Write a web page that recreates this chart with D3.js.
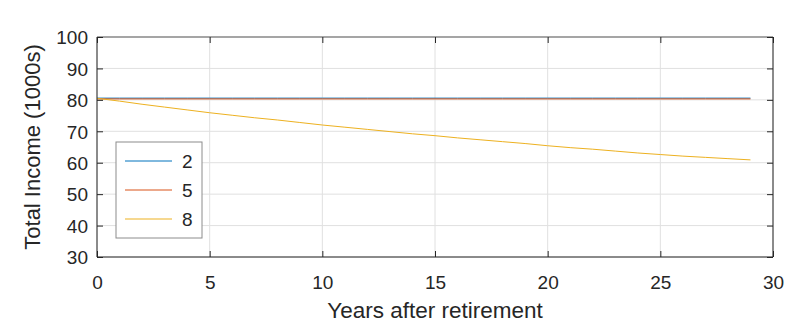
<!DOCTYPE html>
<html lang="en">
<head>
<meta charset="UTF-8">
<title>Total Income</title>
<script src="https://d3js.org/d3.v7.min.js"></script>
<style>
    body { margin: 0; background: #fff; }
    text { font-family: "Liberation Sans", Arial, sans-serif; fill: #262626; }
</style>
</head>
<body>
<script>
    const years = d3.range(0, 30);
    const series2 = years.map(() => 80.55);
    const series5 = years.map(() => 80.3);
    const series8 = [80.5, 79.6, 78.6, 77.7, 76.8, 75.9, 75.1, 74.3, 73.6, 72.8,
                     72.0, 71.3, 70.6, 69.9, 69.2, 68.6, 67.9, 67.3, 66.7, 66.1,
                     65.4, 64.8, 64.3, 63.7, 63.1, 62.6, 62.1, 61.7, 61.3, 60.9];
    const seriesNames = ['2', '5', '8'];
    const seriesColors = ['#0072BD', '#D95319', '#EDB120'];
    const xTicks = [0, 5, 10, 15, 20, 25, 30];
    const yTicks = [30, 40, 50, 60, 70, 80, 90, 100];

    const width = 808, height = 329;
    const pLeft = 97, pRight = 773, pTop = 37, pBottom = 257;

    const x = d3.scaleLinear().domain([0, 30]).range([pLeft, pRight]);
    const y = d3.scaleLinear().domain([30, 100]).range([pBottom, pTop]);

    const svg = d3.select('body').append('svg')
        .attr('width', width).attr('height', height);

    // grid
    svg.append('g').selectAll('line').data(xTicks).enter().append('line')
        .attr('x1', d => x(d)).attr('x2', d => x(d))
        .attr('y1', pTop).attr('y2', pBottom)
        .attr('stroke', '#e0e0e0').attr('stroke-width', 1);
    svg.append('g').selectAll('line').data(yTicks).enter().append('line')
        .attr('x1', pLeft).attr('x2', pRight)
        .attr('y1', d => y(d)).attr('y2', d => y(d))
        .attr('stroke', '#e0e0e0').attr('stroke-width', 1);

    // lines
    const line = d3.line().x((d, i) => x(years[i])).y(d => y(d));
    [series2, series5, series8].forEach((s, i) => {
        svg.append('path').datum(s)
            .attr('fill', 'none')
            .attr('stroke', seriesColors[i])
            .attr('stroke-width', 1)
            .attr('d', line);
    });

    // box
    svg.append('line').attr('x1', pLeft).attr('x2', pRight).attr('y1', pTop).attr('y2', pTop)
        .attr('stroke', '#8c8c8c').attr('stroke-width', 1.5);
    svg.append('line').attr('x1', pLeft).attr('x2', pRight).attr('y1', pBottom).attr('y2', pBottom)
        .attr('stroke', '#262626').attr('stroke-width', 1);
    svg.append('line').attr('x1', pLeft).attr('x2', pLeft).attr('y1', pTop).attr('y2', pBottom)
        .attr('stroke', '#262626').attr('stroke-width', 1);
    svg.append('line').attr('x1', pRight).attr('x2', pRight).attr('y1', pTop).attr('y2', pBottom)
        .attr('stroke', '#262626').attr('stroke-width', 1);

    // axes with inward ticks
    const xAxisB = svg.append('g').attr('transform', `translate(0,${pBottom})`)
        .call(d3.axisBottom(x).tickValues(xTicks).tickSizeInner(-6).tickSizeOuter(0).tickPadding(19));
    const xAxisT = svg.append('g').attr('transform', `translate(0,${pTop})`)
        .call(d3.axisTop(x).tickValues(xTicks).tickSizeInner(-6).tickSizeOuter(0).tickFormat(''));
    const yAxisL = svg.append('g').attr('transform', `translate(${pLeft},0)`)
        .call(d3.axisLeft(y).tickValues(yTicks).tickSizeInner(-6).tickSizeOuter(0).tickPadding(9));
    const yAxisR = svg.append('g').attr('transform', `translate(${pRight},0)`)
        .call(d3.axisRight(y).tickValues(yTicks).tickSizeInner(-6).tickSizeOuter(0).tickFormat(''));
    [xAxisB, xAxisT, yAxisL, yAxisR].forEach(a => {
        a.select('.domain').remove();
        a.selectAll('.tick line').attr('stroke', '#262626');
        a.selectAll('.tick text').style('font-size', '19px')
            .style('font-family', '"Liberation Sans", Arial, sans-serif').attr('fill', '#262626');
    });
    yAxisL.selectAll('.tick text').attr('dy', '0.36em');

    // axis labels
    svg.append('text').attr('x', (pLeft + pRight) / 2).attr('y', 318)
        .attr('text-anchor', 'middle').style('font-size', '22.5px')
        .text('Years after retirement');
    svg.append('text')
        .attr('transform', `translate(40,${(pTop + pBottom) / 2}) rotate(-90)`)
        .attr('text-anchor', 'middle').style('font-size', '22px')
        .text('Total Income (1000s)');

    // legend
    const lg = svg.append('g');
    lg.append('rect').attr('x', 116).attr('y', 142).attr('width', 86).attr('height', 96)
        .attr('fill', '#fff').attr('stroke', '#8c8c8c').attr('stroke-width', 1);
    seriesNames.forEach((n, i) => {
        const yy = 161 + i * 29;
        lg.append('line').attr('x1', 125).attr('x2', 172).attr('y1', yy).attr('y2', yy)
            .attr('stroke', seriesColors[i]).attr('stroke-width', 1);
        lg.append('text').attr('x', 182).attr('y', yy).attr('dy', '0.36em')
            .style('font-size', '19px').text(n);
    });
</script>
</body>
</html>
